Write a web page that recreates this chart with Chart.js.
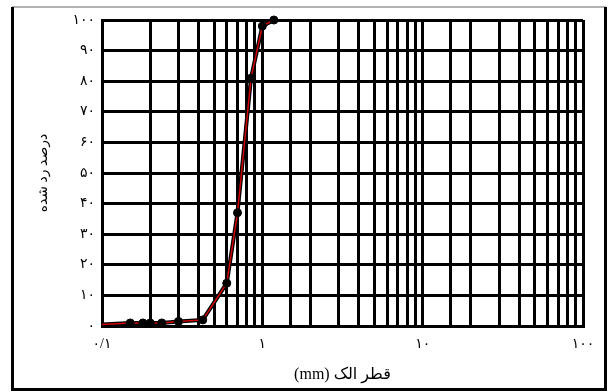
<!DOCTYPE html>
<html>
<head>
<meta charset="utf-8">
<script src="https://cdn.jsdelivr.net/npm/chart.js@4/dist/chart.umd.min.js"></script>
<style>
  html, body { margin: 0; padding: 0; background: #fff; }
  #wrap { width: 609px; height: 392px; }
</style>
</head>
<body>
<div id="wrap"><canvas id="sieveChart" width="609" height="392"></canvas></div>
<script>
    // grain size (mm) and percent passing
    const sizes = [0.1, 0.15, 0.18, 0.2, 0.236, 0.3, 0.425, 0.6, 0.7, 0.85, 1.0, 1.18];
    const passing = [0.5, 1, 1, 1, 1, 1.5, 2, 14, 37, 81, 98, 100];

    const xTickValues = [0.1, 1, 10, 100];
    const xTickLabels = ['۰/۱', '۱', '۱۰', '۱۰۰'];
    const yTickLabels = ['۰', '۱۰', '۲۰', '۳۰', '۴۰', '۵۰', '۶۰', '۷۰', '۸۰', '۹۰', '۱۰۰'];

    // titles are right-to-left, so wrap them in an RTL embedding
    const xTitle = '\u202Bقطر الک (mm)\u202C';
    const yTitle = '\u202Bدرصد رد شده\u202C';

    const fontFamily = "'Liberation Serif', 'DejaVu Sans', serif";

    const points = sizes.map((s, i) => ({ x: s, y: passing[i] }));

    // frame around the whole figure
    const framePlugin = {
        id: 'frame',
        beforeDraw(chart) {
            const ctx = chart.ctx;
            ctx.save();
            ctx.fillStyle = '#fff';
            ctx.fillRect(0, 0, chart.width, chart.height);
            ctx.strokeStyle = '#999';
            ctx.lineWidth = 1.5;
            ctx.beginPath();
            ctx.moveTo(12, 7);
            ctx.lineTo(606, 7);
            ctx.stroke();
            ctx.strokeStyle = '#000';
            ctx.lineWidth = 3;
            ctx.beginPath();
            ctx.moveTo(12.5, 7);
            ctx.lineTo(12.5, 389.5);
            ctx.lineTo(605.5, 389.5);
            ctx.lineTo(605.5, 7);
            ctx.stroke();
            ctx.restore();
        }
    };

    const ctx = document.getElementById('sieveChart').getContext('2d');
    const sieveChart = new Chart(ctx, {
        type: 'scatter',
        data: {
            datasets: [{
                data: points,
                showLine: false,
                pointRadius: (c) => c.dataIndex === 0 ? 0 : 4,
                pointBackgroundColor: '#000',
                pointBorderColor: '#000',
                clip: false
            }, {
                data: points,
                showLine: true,
                borderColor: '#d00000',
                borderWidth: 1.5,
                pointRadius: 0,
                clip: false
            }, {
                data: points,
                showLine: true,
                borderColor: '#000',
                borderWidth: 4,
                pointRadius: 0,
                clip: false
            }]
        },
        options: {
            responsive: false,
            animation: false,
            layout: { padding: { left: 28, right: 26, top: 20, bottom: 8 } },
            plugins: {
                legend: { display: false },
                tooltip: { enabled: false }
            },
            scales: {
                x: {
                    type: 'logarithmic',
                    min: 0.1,
                    max: 100,
                    afterFit: (scale) => { scale.height = 58; },
                    grid: { color: '#000', lineWidth: 3, drawTicks: false },
                    border: { color: '#000', width: 3 },
                    ticks: {
                        autoSkip: false,
                        maxRotation: 0,
                        padding: 10,
                        color: '#000',
                        font: { family: fontFamily, size: 14 },
                        callback: function (value) {
                            const i = xTickValues.findIndex(v => Math.abs(v - value) < 1e-9);
                            return i >= 0 ? xTickLabels[i] : '';
                        }
                    },
                    title: {
                        display: true,
                        text: xTitle,
                        color: '#000',
                        padding: 0,
                        font: { family: fontFamily, size: 16 }
                    }
                },
                y: {
                    min: 0,
                    max: 100,
                    afterFit: (scale) => { scale.width = 74; },
                    grid: { color: '#000', lineWidth: 3, drawTicks: false },
                    border: { color: '#000', width: 3 },
                    ticks: {
                        stepSize: 10,
                        padding: 7,
                        color: '#000',
                        font: { family: fontFamily, size: 14 },
                        callback: function (value, index) {
                            return yTickLabels[index];
                        }
                    },
                    title: {
                        display: true,
                        text: yTitle,
                        color: '#000',
                        padding: { top: 7, bottom: 0 },
                        font: { family: fontFamily, size: 14 }
                    }
                }
            }
        },
        plugins: [framePlugin]
    });
</script>
</body>
</html>
